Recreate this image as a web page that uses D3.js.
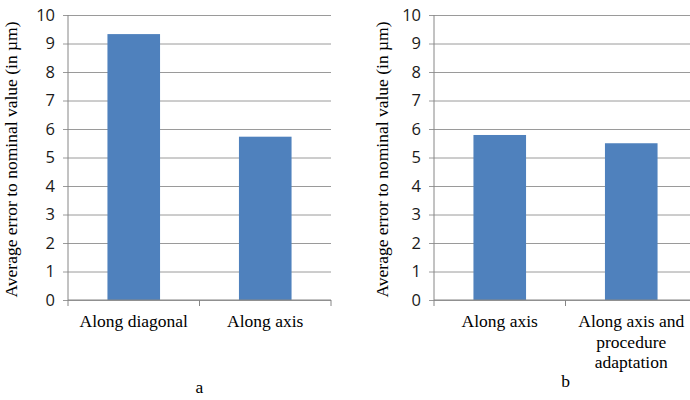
<!DOCTYPE html>
<html>
<head>
<meta charset="utf-8">
<script src="https://cdn.jsdelivr.net/npm/d3@7"></script>
<style>
  body { margin: 0; background: #fff; }
  svg { display: block; }
</style>
</head>
<body>
<div id="chart"></div>
<script>
// two small bar charts side by side, a and b

const categoriesA = ["Along diagonal", "Along axis"];
const valuesA = [9.33, 5.73];

const categoriesB = ["Along axis", "Along axis and|procedure|adaptation"];
const valuesB = [5.79, 5.5];

const yTicks = [0, 1, 2, 3, 4, 5, 6, 7, 8, 9, 10];
const yTitle = "Average  error to nominal value (in \u00b5m)";
const panelLabels = ["a", "b"];

const svg = d3.select('#chart')
  .append('svg')
  .attr('width', 690)
  .attr('height', 400);

const drawPanel = (left, cats, vals, caption, captionY, titleX) => {
  const plotW = 263;
  const top = 15, bottom = 300;

  const g = svg.append('g')
    .attr('transform', `translate(${left},0)`);

  const x = d3.scaleBand()
    .domain(cats)
    .range([0, plotW])
    .paddingInner(0.6)
    .paddingOuter(0.3);

  const y = d3.scaleLinear()
    .domain([0, 10])
    .range([bottom, top]);

  // gridlines + y ticks
  const yAxis = g.append('g')
    .call(d3.axisLeft(y).tickValues(yTicks).tickSize(-plotW - 5).tickPadding(8))
    .attr('transform', 'translate(-5,0)');
  yAxis.select('.domain').remove();
  yAxis.selectAll('.tick line')
    .attr('stroke', '#9a9a9a')
    .attr('x1', 0)
    .attr('x2', plotW + 5);
  yAxis.selectAll('.tick text')
    .attr('font-family', '"Open Sans", sans-serif')
    .attr('font-size', 16.5)
    .attr('fill', '#1a1a1a');

  // vertical axis line
  g.append('line')
    .attr('x1', 0).attr('x2', 0)
    .attr('y1', top).attr('y2', bottom)
    .attr('stroke', '#868686');

  // bars
  g.selectAll('.bar')
    .data(vals)
    .enter()
    .append('rect')
    .attr('class', 'bar')
    .attr('x', (d, i) => x(cats[i]))
    .attr('width', x.bandwidth())
    .attr('y', d => y(d))
    .attr('height', d => bottom - y(d))
    .attr('fill', '#4f81bd');

  // x axis line with ticks at category boundaries
  g.append('line')
    .attr('x1', 0).attr('x2', plotW)
    .attr('y1', bottom).attr('y2', bottom)
    .attr('stroke', '#868686');
  const step = x.step();
  g.selectAll('.xtick')
    .data(d3.range(cats.length + 1))
    .enter()
    .append('line')
    .attr('x1', i => i * step).attr('x2', i => i * step)
    .attr('y1', bottom).attr('y2', bottom + 6)
    .attr('stroke', '#868686');

  // category labels
  const lbl = g.selectAll('.cat')
    .data(cats)
    .enter()
    .append('text')
    .attr('text-anchor', 'middle')
    .attr('font-family', '"Liberation Serif", serif')
    .attr('font-size', 17.5)
    .attr('fill', '#000')
    .attr('transform', d => `translate(${x(d) + x.bandwidth() / 2},${bottom + 27})`);
  lbl.each(function (d) {
    const t = d3.select(this);
    d.split('|').forEach((line, k) => {
      t.append('tspan').attr('x', 0).attr('dy', k === 0 ? 0 : 20.5).text(line);
    });
  });

  // y title
  g.append('text')
    .attr('transform', `translate(${titleX},${(top + bottom) / 2 + 2}) rotate(-90)`)
    .attr('text-anchor', 'middle')
    .attr('font-family', '"Liberation Serif", serif')
    .attr('font-size', 17.5)
    .attr('fill', '#000')
    .text(yTitle);

  // panel caption
  g.append('text')
    .attr('x', plotW / 2)
    .attr('y', captionY)
    .attr('text-anchor', 'middle')
    .attr('font-family', '"Liberation Serif", serif')
    .attr('font-size', 17.5)
    .attr('fill', '#000')
    .text(caption);
};

drawPanel(68, categoriesA, valuesA, panelLabels[0], 393, -51);
drawPanel(434, categoriesB, valuesB, panelLabels[1], 387, -46);
</script>
</body>
</html>
